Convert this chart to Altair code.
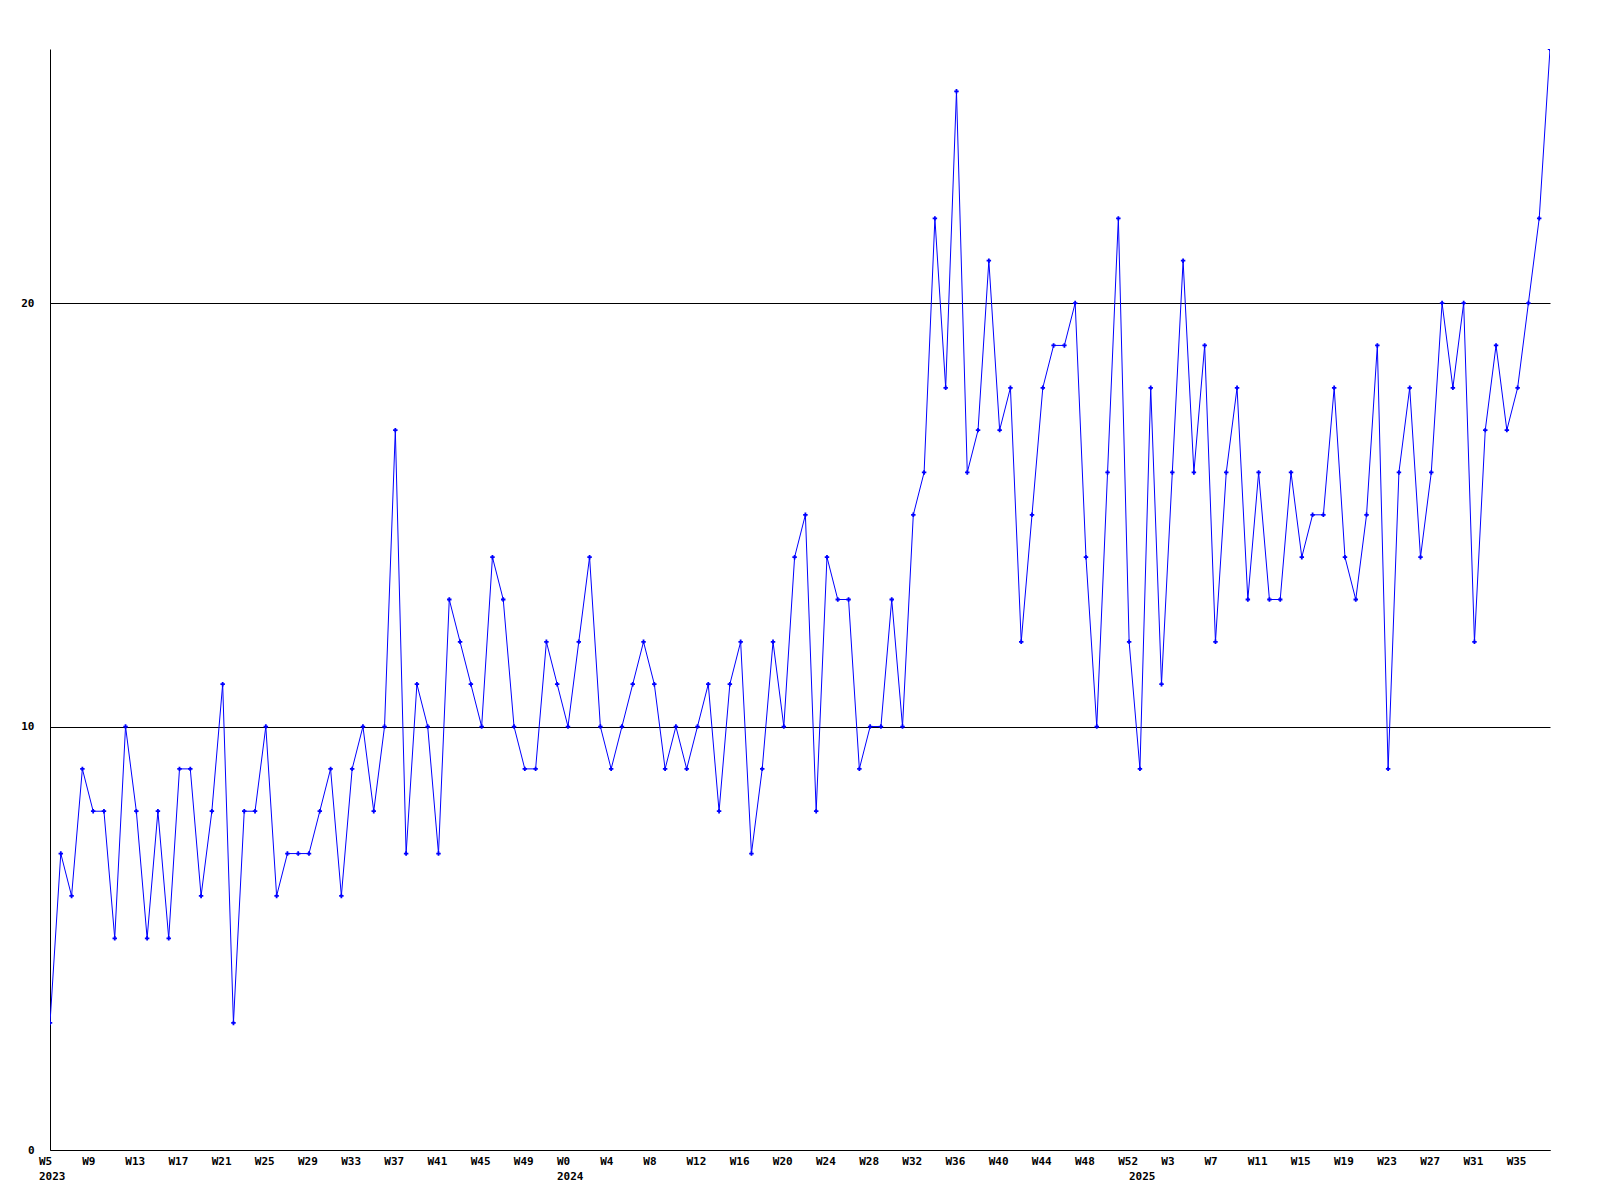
import altair as alt
import pandas as pd

# Weekly counts, 2023 W5 .. 2025 W38 (one value per week)
values = [
    3, 7, 6, 9, 8, 8, 5, 10, 8, 5,
    8, 5, 9, 9, 6, 8, 11, 3, 8, 8,
    10, 6, 7, 7, 7, 8, 9, 6, 9, 10,
    8, 10, 17, 7, 11, 10, 7, 13, 12, 11,
    10, 14, 13, 10, 9, 9, 12, 11, 10, 12,
    14, 10, 9, 10, 11, 12, 11, 9, 10, 9,
    10, 11, 8, 11, 12, 7, 9, 12, 10, 14,
    15, 8, 14, 13, 13, 9, 10, 10, 13, 10,
    15, 16, 22, 18, 25, 16, 17, 21, 17, 18,
    12, 15, 18, 19, 19, 20, 14, 10, 16, 22,
    12, 9, 18, 11, 16, 21, 16, 19, 12, 16,
    18, 13, 16, 13, 13, 16, 14, 15, 15, 18,
    14, 13, 15, 19, 9, 16, 18, 14, 16, 20,
    18, 20, 12, 17, 19, 17, 18, 20, 22, 26,
]

# x tick labels, one every 4 weeks
tick_labels = [
    "W5", "W9", "W13", "W17", "W21", "W25", "W29", "W33", "W37", "W41", "W45", "W49",
    "W0", "W4", "W8", "W12", "W16", "W20", "W24", "W28", "W32", "W36", "W40", "W44", "W48", "W52",
    "W3", "W7", "W11", "W15", "W19", "W23", "W27", "W31", "W35",
]
tick_step = 4

# year labels and the week position where each year starts
years = ["2023", "2024", "2025"]
year_start = [0, 48, 101]

y_ticks = [0, 10, 20]
y_max = 26

W, H = 1500, 1101
FONT = "DejaVu Sans Mono"

df = pd.DataFrame({"idx": list(range(len(values))), "value": values})
df_years = pd.DataFrame({"idx": year_start, "year": years})
df_ticks = pd.DataFrame({"idx": [i * tick_step for i in range(len(tick_labels))], "lab": tick_labels})

x_scale = alt.Scale(domain=[0, len(values) - 1], nice=False, zero=False)
x_enc = alt.X(
    "idx:Q",
    scale=x_scale,
    axis=alt.Axis(
        title="",
        grid=False,
        ticks=False,
        labels=False,
        domainColor="#000000",
        domainWidth=1,
    ),
)
y_enc = alt.Y(
    "value:Q",
    scale=alt.Scale(domain=[0, y_max], nice=False),
    axis=alt.Axis(
        values=y_ticks,
        title="",
        grid=True,
        gridColor="#000000",
        gridOpacity=1,
        gridWidth=1,
        ticks=False,
        labelPadding=16,
        labelFont=FONT,
        labelFontWeight="bold",
        labelFontSize=11,
        labelColor="#000000",
        domainColor="#000000",
        domainWidth=1,
    ),
)

line = alt.Chart(df).mark_line(color="#0000ff", strokeWidth=1, clip=True).encode(x=x_enc, y=y_enc)
pts = alt.Chart(df).mark_point(
    shape="cross", filled=True, size=20, color="#0000ff", opacity=1, clip=True
).encode(x="idx:Q", y="value:Q")
week_text = alt.Chart(df_ticks).mark_text(
    font=FONT, fontWeight="bold", fontSize=11, baseline="middle", align="left", dx=-11,
    color="#000000"
).encode(x="idx:Q", y=alt.value(H + 12), text="lab:N")
year_text = alt.Chart(df_years).mark_text(
    font=FONT, fontWeight="bold", fontSize=11, baseline="middle", align="left", dx=-11,
    color="#000000"
).encode(x="idx:Q", y=alt.value(H + 27), text="year:N")

chart = (
    alt.layer(line, pts, week_text, year_text)
    .properties(
        width=W,
        height=H,
        autosize="none",
        padding={"left": 42, "top": 41, "right": 42, "bottom": 50},
        background="#ffffff",
    )
    .configure_view(strokeOpacity=0)
)

chart.save("out.html", embed_options={"renderer": "svg", "actions": False})
